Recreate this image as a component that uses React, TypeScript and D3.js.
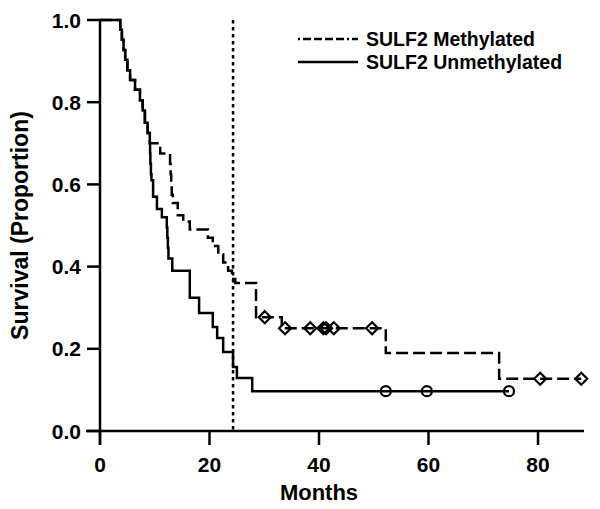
import React from "react";
import * as d3 from "d3";

// Kaplan-Meier steps: [months, survival after drop]
const methylatedSteps: [number, number][] = [
  [0, 1], [3.7, 0.976], [4.0, 0.952], [4.3, 0.927], [4.6, 0.903], [5.0, 0.878],
  [5.5, 0.854], [6.4, 0.83], [7.3, 0.805], [7.8, 0.78], [8.2, 0.75], [8.7, 0.725], [9.1, 0.7],
  [11.0, 0.675], [12.8, 0.65], [12.9, 0.625], [13.0, 0.6], [13.1, 0.575], [13.3, 0.555],
  [14.2, 0.525], [15.2, 0.51], [16.4, 0.49], [19.7, 0.47], [20.6, 0.45], [21.6, 0.43],
  [22.5, 0.41], [23.4, 0.39], [24.1, 0.37], [24.7, 0.36], [28.5, 0.277], [33.2, 0.25],
  [52.2, 0.19], [72.9, 0.127],
];
const methylatedEnd = 87.9;
const methylatedCensored = [30.1, 33.8, 38.4, 40.8, 41.3, 42.7, 49.7, 80.4, 87.9];

const unmethylatedSteps: [number, number][] = [
  [0, 1], [3.7, 0.976], [4.0, 0.952], [4.3, 0.927], [4.6, 0.903], [5.0, 0.878],
  [5.5, 0.854], [6.4, 0.83], [7.3, 0.805], [7.8, 0.78], [8.2, 0.75], [8.7, 0.725], [9.1, 0.7],
  [9.15, 0.675], [9.2, 0.65], [9.3, 0.625], [9.4, 0.61], [9.7, 0.57], [10.4, 0.54],
  [11.3, 0.52], [12.2, 0.495], [12.3, 0.47], [12.4, 0.445], [12.5, 0.42], [13.2, 0.39],
  [16.4, 0.324], [18.1, 0.287], [20.6, 0.253], [21.4, 0.226], [22.5, 0.192],
  [24.3, 0.156], [25.0, 0.129], [27.8, 0.097],
];
const unmethylatedEnd = 74.7;
const unmethylatedCensored = [52.2, 59.7, 74.7];

const xTicks = [0, 20, 40, 60, 80];
const yTicks = [0, 0.2, 0.4, 0.6, 0.8, 1.0];
const cutoffMonth = 24.3;
const legendLabels = ["SULF2 Methylated", "SULF2 Unmethylated"];

const W = 600, H = 509;
const font = "Arial, 'Liberation Sans', Helvetica, sans-serif";

function survAt(steps: [number, number][], t: number) {
  let s = 1;
  for (const [m, v] of steps) if (m <= t) s = v;
  return s;
}

export default function App() {
  const x = d3.scaleLinear().domain([0, 88.4]).range([100, 584]);
  const y = d3.scaleLinear().domain([0, 1]).range([431, 20]);
  const line = d3.line<[number, number]>()
    .x(d => x(d[0])).y(d => y(d[1]))
    .curve(d3.curveStepAfter);

  const withEnd = (steps: [number, number][], end: number) =>
    [...steps, [end, steps[steps.length - 1][1]] as [number, number]];

  const diamond = (cx: number, cy: number, r: number) =>
    `M${cx},${cy - r}L${cx + r},${cy}L${cx},${cy + r}L${cx - r},${cy}Z`;

  const fmt = d3.format(".1f");

  return (
    <svg width={W} height={H} style={{ position: "absolute", left: 0, top: 0, background: "#fff" }}>
      {/* axes */}
      <line x1={86} x2={584} y1={y(0)} y2={y(0)} stroke="#000" strokeWidth={2.5} />
      <line x1={x(0)} x2={x(0)} y1={y(1)} y2={445} stroke="#000" strokeWidth={2.5} />
      {xTicks.map(t => (
        <g key={t}>
          <line x1={x(t)} x2={x(t)} y1={y(0)} y2={445} stroke="#000" strokeWidth={2.5} />
          <text x={x(t)} y={472} textAnchor="middle" fontFamily={font} fontWeight="bold" fontSize={21}>{t}</text>
        </g>
      ))}
      {yTicks.map(t => (
        <g key={t}>
          <line x1={87} x2={x(0)} y1={y(t)} y2={y(t)} stroke="#000" strokeWidth={2.5} />
          <text x={81} y={y(t) + 7.5} textAnchor="end" fontFamily={font} fontWeight="bold" fontSize={21}>{fmt(t)}</text>
        </g>
      ))}
      <text x={x(40)} y={500} textAnchor="middle" fontFamily={font} fontWeight="bold" fontSize={22}>Months</text>
      <text transform={`translate(28,${(y(0) + y(1)) / 2}) rotate(-90)`} textAnchor="middle"
        fontFamily={font} fontWeight="bold" fontSize={23}>Survival (Proportion)</text>

      {/* 24 month cutoff */}
      <line x1={x(cutoffMonth)} x2={x(cutoffMonth)} y1={y(1)} y2={y(0)} stroke="#000"
        strokeWidth={2.5} strokeDasharray="3.5,3.5" />

      {/* curves */}
      <path d={line(withEnd(unmethylatedSteps, unmethylatedEnd)) || ""} fill="none" stroke="#000" strokeWidth={2.5} />
      <path d={line(withEnd(methylatedSteps, methylatedEnd)) || ""} fill="none" stroke="#000"
        strokeWidth={2.5} strokeDasharray="12,5" />

      {unmethylatedCensored.map((t, i) => (
        <circle key={"u" + i} cx={x(t)} cy={y(survAt(unmethylatedSteps, t))} r={5}
          fill="none" stroke="#000" strokeWidth={2.2} />
      ))}
      {methylatedCensored.map((t, i) => (
        <path key={"m" + i} d={diamond(x(t), y(survAt(methylatedSteps, t)), 6)}
          fill="none" stroke="#000" strokeWidth={2.2} />
      ))}

      {/* legend */}
      <line x1={298} x2={358} y1={39} y2={39} stroke="#000" strokeWidth={2.5} strokeDasharray="2,3,8,3,8,3,8,3,8,3" />
      <text x={366} y={46} fontFamily={font} fontWeight="bold" fontSize={19.5}>{legendLabels[0]}</text>
      <line x1={298} x2={358} y1={62} y2={62} stroke="#000" strokeWidth={2.5} />
      <text x={366} y={69} fontFamily={font} fontWeight="bold" fontSize={19.5}>{legendLabels[1]}</text>
    </svg>
  );
}
